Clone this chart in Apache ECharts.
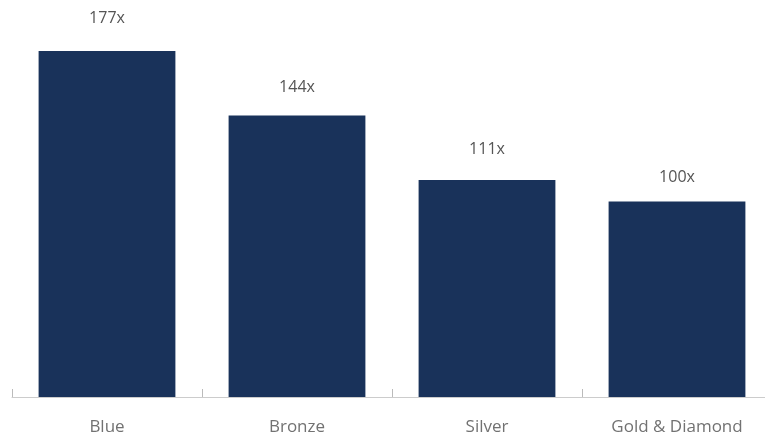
<!DOCTYPE html>
<html><head><meta charset="utf-8">
<script src="https://cdn.jsdelivr.net/npm/echarts@6/dist/echarts.min.js"></script>
<style>html,body{margin:0;padding:0;overflow:hidden;background:#fff}#c{width:775px;height:436px}</style>
</head><body><div id="c"></div>
<script>
const categories = ['Blue', 'Bronze', 'Silver', 'Gold & Diamond'];
const values = [177, 144, 111, 100];
const labelGaps = [25, 20, 23, 16];
const chart = echarts.init(document.getElementById('c'), null, {renderer: 'canvas'});
chart.setOption({
  animation: false,
  grid: {left: 12, right: 3, top: 6, bottom: 39},
  xAxis: {
    type: 'category', data: categories,
    axisLine: {lineStyle: {color: '#cccccc', width: 1}},
    axisTick: {show: true, inside: true, length: 8, lineStyle: {color: '#bbbbbb'}},
    axisLabel: {color: '#727272', fontFamily: 'Open Sans', fontSize: 17, margin: 22}
  },
  yAxis: {type: 'value', min: 0, max: 200, show: false, splitLine: {show: false}},
  series: [{
    type: 'bar',
    data: values.map((v, i) => ({value: v, label: {distance: labelGaps[i]}})),
    barCategoryGap: '28%',
    itemStyle: {color: '#19325a'},
    label: {show: true, position: 'top', formatter: p => p.value + 'x',
      color: '#555555', fontFamily: 'Open Sans', fontSize: 16}
  }]
});
</script></body></html>
